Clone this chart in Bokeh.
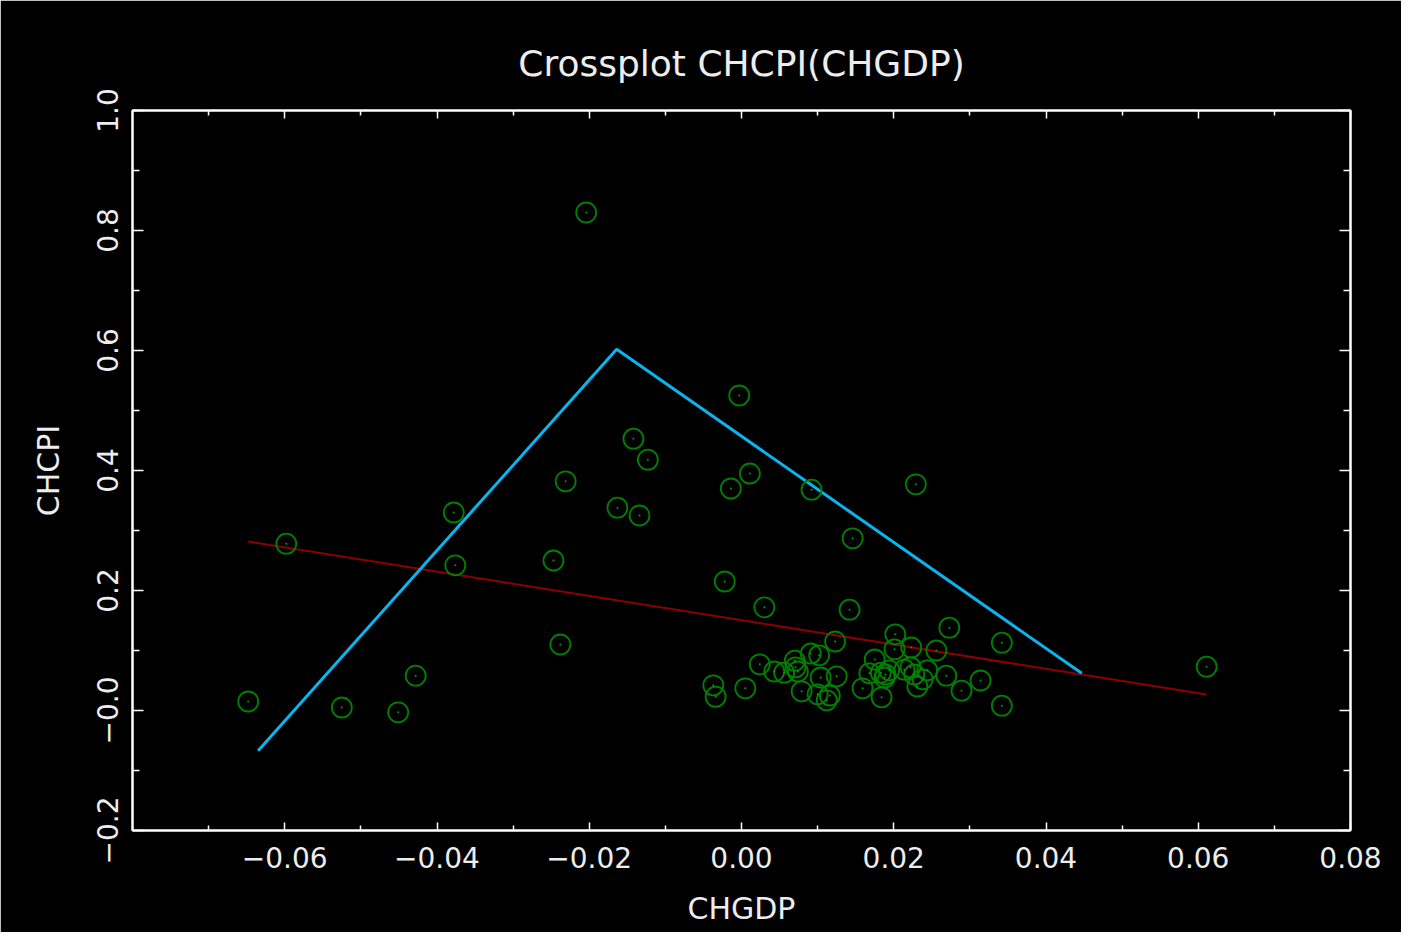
from bokeh.plotting import figure
from bokeh.models import Range1d, FixedTicker, LinearAxis, Title
from bokeh.embed import file_html
from bokeh.resources import INLINE

# ---- data ----
chgdp = [-0.0204, -0.0003, -0.0142, -0.0123, -0.0231, 0.0011, -0.0014, 0.0092, 0.0229,
         -0.0378, -0.0163, -0.0134, 0.0146, -0.0598, -0.0247, -0.0376, -0.0022, 0.0030,
         0.0142, -0.0238, 0.0123, 0.0273, 0.0202, 0.0342, 0.0611, -0.0648, -0.0525,
         -0.0451, -0.0428, 0.0342, -0.0037, -0.0034, 0.0005, 0.0024, 0.0043, 0.0056,
         0.0070, 0.0071, 0.0091, 0.0102, 0.0074, 0.0104, 0.0125, 0.0079, 0.0100, 0.0116,
         0.0112, 0.0159, 0.0184, 0.0201, 0.0223, 0.0256, 0.0175, 0.0168, 0.0183, 0.0189,
         0.0194, 0.0188, 0.0222, 0.0227, 0.0244, 0.0238, 0.0231, 0.0269, 0.0289, 0.0314,
         0.0214]
chcpi = [0.830, 0.525, 0.453, 0.418, 0.382, 0.395, 0.370, 0.368, 0.377,
         0.330, 0.338, 0.325, 0.287, 0.278, 0.250, 0.242, 0.215, 0.172,
         0.168, 0.110, 0.115, 0.138, 0.127, 0.113, 0.073, 0.015, 0.005,
         -0.003, 0.058, 0.008, 0.042, 0.023, 0.037, 0.077, 0.065, 0.063,
         0.083, 0.072, 0.095, 0.092, 0.065, 0.055, 0.057, 0.032, 0.027, 0.025,
         0.017, 0.037, 0.022, 0.102, 0.105, 0.100, 0.085, 0.062, 0.063, 0.060,
         0.067, 0.055, 0.072, 0.060, 0.067, 0.052, 0.040, 0.058, 0.033, 0.050,
         0.068]

fit_x = [-0.0648, 0.0611]
fit_y = [0.2817, 0.0267]

tri_x = [-0.0635, -0.0164, 0.0447]
tri_y = [-0.067, 0.602, 0.062]

x_major = [-0.06, -0.04, -0.02, 0.0, 0.02, 0.04, 0.06, 0.08]
x_minor = [-0.07, -0.05, -0.03, -0.01, 0.01, 0.03, 0.05, 0.07]
x_labels = ["\u22120.06", "\u22120.04", "\u22120.02", "0.00", "0.02", "0.04", "0.06", "0.08"]

y_major = [-0.2, 0.0, 0.2, 0.4, 0.6, 0.8, 1.0]
y_minor = [-0.1, 0.1, 0.3, 0.5, 0.7, 0.9]
y_labels = ["\u22120.2", "\u22120.0", "0.2", "0.4", "0.6", "0.8", "1.0"]

TITLE = "Crossplot CHCPI(CHGDP)"
FONT = "DejaVu Sans"
TXT = "#EDEDED"

p = figure(width=1401, height=932, output_backend="svg", toolbar_location=None,
           x_range=Range1d(-0.08, 0.08), y_range=Range1d(-0.2, 1.0),
           x_axis_location=None, y_axis_location=None,
           min_border_left=132, min_border_right=51, min_border_top=110, min_border_bottom=102)
p.background_fill_color = "black"
p.border_fill_color = "black"
p.outline_line_color = "white"
p.outline_line_width = 2
p.xgrid.visible = False
p.ygrid.visible = False

xt = FixedTicker(ticks=x_major, minor_ticks=x_minor)
yt = FixedTicker(ticks=y_major, minor_ticks=y_minor)

def style(ax, labels, show, vertical):
    ax.axis_line_color = "white"
    ax.axis_line_width = 2
    ax.major_tick_line_color = "white"
    ax.minor_tick_line_color = "white"
    ax.major_tick_line_width = 1.5
    ax.minor_tick_line_width = 1.5
    ax.major_tick_out = 0
    ax.minor_tick_out = 0
    if vertical:
        ax.major_tick_in = 11
        ax.minor_tick_in = 7
    else:
        ax.major_tick_in = 8
        ax.minor_tick_in = 5
    if show:
        ax.major_label_text_color = TXT
        ax.major_label_text_font = FONT
        ax.major_label_text_font_size = "28px"
        ax.axis_label_text_color = TXT
        ax.axis_label_text_font = FONT
        ax.axis_label_text_font_size = "30px"
        ax.axis_label_text_font_style = "normal"
        ax.major_label_overrides = labels
    else:
        ax.major_label_text_font_size = "0px"
        ax.major_label_standoff = 0
        ax.major_label_text_color = None

xlab = {v: s for v, s in zip(x_major, x_labels)}
ylab = {v: s for v, s in zip(y_major, y_labels)}

bottom = LinearAxis(ticker=xt, axis_label="CHGDP")
style(bottom, xlab, True, False)
bottom.major_label_standoff = 16
bottom.axis_label_standoff = 20
p.add_layout(bottom, "below")

left = LinearAxis(ticker=yt, axis_label="CHCPI")
style(left, ylab, True, True)
left.major_label_orientation = "vertical"
left.major_label_standoff = 15
left.axis_label_standoff = 28
p.add_layout(left, "left")

top = LinearAxis(ticker=xt)
style(top, {}, False, False)
top.major_label_standoff = 12
p.add_layout(top, "above")

right = LinearAxis(ticker=yt)
style(right, {}, False, True)
p.add_layout(right, "right")

title = Title(text=TITLE, align="center", text_color=TXT, text_font=FONT,
              text_font_size="36px", text_font_style="normal", standoff=54)
p.add_layout(title, "above")

p.line(fit_x, fit_y, line_color="#8B0000", line_width=2)
p.line(tri_x, tri_y, line_color="#0AB4EE", line_width=3)
p.scatter(chgdp, chcpi, marker="circle", size=20, fill_color=None,
          line_color="#008000", line_width=1.8)
p.scatter(chgdp, chcpi, marker="circle", size=2, fill_color="#00A000", line_color=None)

open("out.html", "w").write(file_html(p, INLINE))
